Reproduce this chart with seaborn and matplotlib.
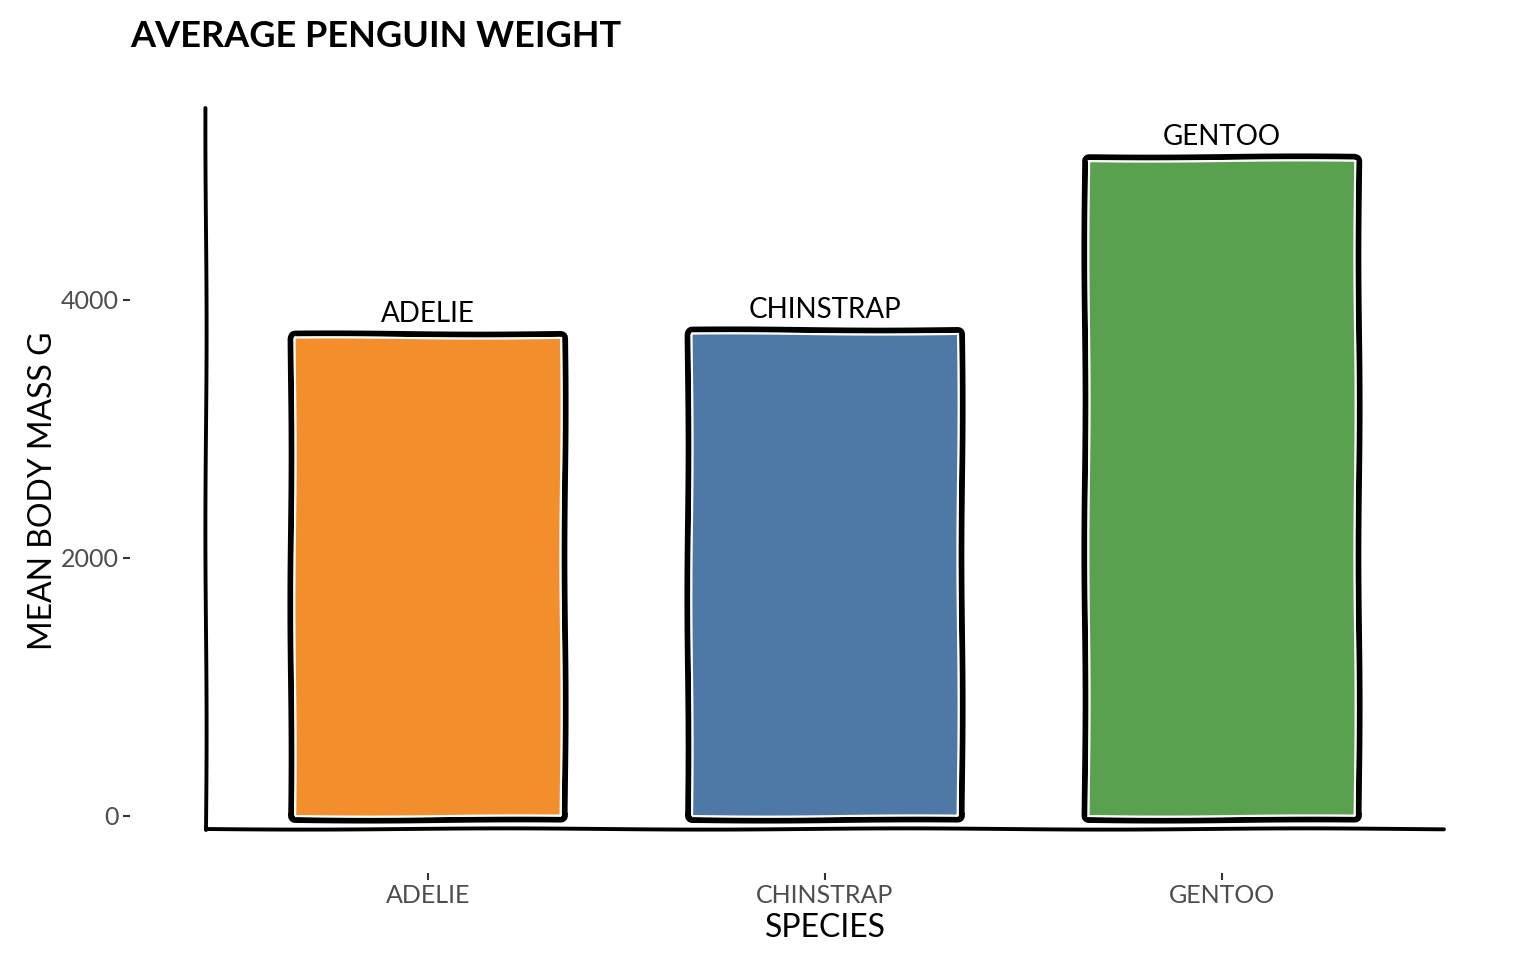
import matplotlib
matplotlib.use("Agg")
import matplotlib.pyplot as plt
import matplotlib.patheffects as pe
import seaborn as sns
import pandas as pd

# -----------------------------
# DATA
# -----------------------------
species = ["ADELIE", "CHINSTRAP", "GENTOO"]
mean_mass = [3701, 3733, 5076]
bar_colors = ["#F28E2B", "#4E79A7", "#59A14F"]
y_ticks = [0, 2000, 4000]

df = pd.DataFrame({"species": species, "mass": mean_mass})

# -----------------------------
# STYLE
# -----------------------------
sns.set_theme(style="white")
plt.rcParams["font.family"] = ["Lato", "DejaVu Sans"]

fig = plt.figure(figsize=(15.36, 9.6), dpi=100)
ax = fig.add_axes([0.0846, 0.0906, 0.905, 0.797])

sns.barplot(data=df, x="species", y="mass", hue="species",
            palette=bar_colors, saturation=1, width=0.67, edgecolor="white",
            linewidth=1.5, legend=False, ax=ax)

for p in ax.patches:
    p.set_path_effects([pe.withStroke(linewidth=10, foreground="black",
                                      joinstyle="round"), pe.Normal()])
    p.set_sketch_params(0.6, 300, 1)

# labels on top of bars
for p, name in zip(ax.patches, species):
    ax.annotate(name, xy=(p.get_x() + p.get_width() / 2, p.get_height()),
                xytext=(0, 8), textcoords="offset points",
                ha="center", va="bottom", fontsize=20, color="black")

ax.set_xlim(-0.75, 2.75)
ax.set_ylim(-442, 5488)
ax.set_yticks(y_ticks)
ax.set_yticklabels([str(v) for v in y_ticks])
for s in ax.spines.values():
    s.set_visible(False)

ax.tick_params(axis="both", which="both", direction="out", length=5, width=1.5,
               color="#333333", labelcolor="#4d4d4d", labelsize=18, pad=3,
               bottom=True, left=True)

# hand drawn axis lines
l1, = ax.plot([0.0547, 0.0547], [0.056, 1.0], transform=ax.transAxes,
              color="black", lw=2.8, clip_on=False)
l2, = ax.plot([0.0547, 0.945], [0.0575, 0.0575], transform=ax.transAxes,
              color="black", lw=2.8, clip_on=False)
for ln in (l1, l2):
    ln.set_sketch_params(0.6, 400, 1)

ax.set_xlabel("SPECIES", fontsize=23, color="black", labelpad=4)
ax.set_ylabel("MEAN BODY MASS G", fontsize=23, color="black", labelpad=2)
ax.set_title("AVERAGE PENGUIN WEIGHT", loc="left", fontsize=26, pad=44,
             color="black", fontweight="bold")

fig.savefig("out.png", dpi=100)
